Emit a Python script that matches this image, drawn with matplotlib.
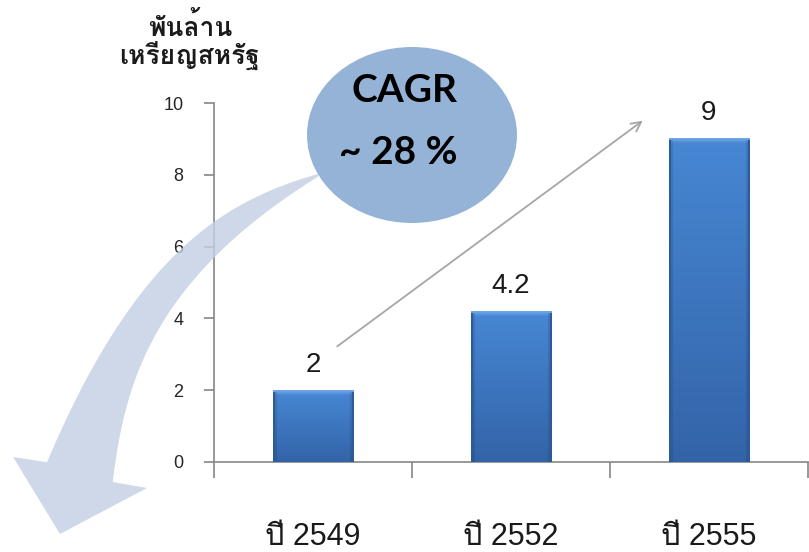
import matplotlib
matplotlib.use("Agg")
import matplotlib.pyplot as plt
import numpy as np
from matplotlib.patches import Ellipse, Polygon
from matplotlib.ticker import FixedLocator

# ---------------- data ----------------
categories = ["ปี 2549", "ปี 2552", "ปี 2555"]
values = [2, 4.2, 9]
value_labels = ["2", "4.2", "9"]
y_ticks = [0, 2, 4, 6, 8, 10]
y_label = "พันล้าน\nเหรียญสหรัฐ"
cagr_title = "CAGR"
cagr_value = "~ 28 %"

W, H = 809, 552
fig = plt.figure(figsize=(W / 100, H / 100), dpi=100)
fig.patch.set_facecolor("white")

ax = fig.add_axes([214 / W, 1 - 462 / H, 594 / W, 359 / H], zorder=1)
gray = "#868686"
x = np.arange(len(categories))
bar_w = 0.405
bars = ax.bar(x, values, width=bar_w, color="#3b78c4", edgecolor="none", zorder=2)
ax.set_xlim(-0.5, len(categories) - 0.5)
ax.set_ylim(0, 10)

# gradient fill for bars
def hex2rgb(h):
    h = h.lstrip("#")
    return np.array([int(h[i:i + 2], 16) for i in (0, 2, 4)]) / 255.0

top_c = hex2rgb("#4787d4")
bot_c = hex2rgb("#3364a8")
bevel_c = hex2rgb("#6ea5e6")
edge_c = hex2rgb("#2d5a98")
px_per_unit = 359 / 10.0
px_per_cat = 594 / 3.0
for b in bars:
    h_units = b.get_height()
    nr = max(int(round(h_units * px_per_unit)), 2)
    nc = max(int(round(b.get_width() * px_per_cat)), 2)
    t = np.linspace(0, 1, nr)[:, None, None]
    img = top_c * (1 - t) + bot_c * t
    img = np.repeat(img, nc, axis=1)
    # top bevel
    for r, w in enumerate([1.0, 0.85, 0.65, 0.4, 0.2]):
        img[r, :, :] = bevel_c * w + img[r, :, :] * (1 - w)
    # side edges darker
    img[2:, :2, :] = edge_c
    img[2:, -2:, :] = edge_c
    img[2:, 2:4, :] = img[2:, 2:4, :] * 0.9
    img[2:, -4:-2, :] = img[2:, -4:-2, :] * 0.9
    x0 = b.get_x()
    ax.imshow(img, extent=(x0, x0 + b.get_width(), 0, h_units), aspect="auto",
              interpolation="bilinear", zorder=3)
ax.set_xlim(-0.5, len(categories) - 0.5)
ax.set_ylim(0, 10)

for xi, v, lab in zip(x, values, value_labels):
    ax.annotate(lab, (xi, v), xytext=(0, 9), textcoords="offset points",
                ha="center", va="bottom", fontsize=20, color="#1a1a1a",
                family=["Liberation Sans"], zorder=4)

# axes styling
for s in ("top", "right"):
    ax.spines[s].set_visible(False)
for s in ("left", "bottom"):
    ax.spines[s].set_color(gray)
    ax.spines[s].set_linewidth(1.2)
ax.set_yticks(y_ticks)
ax.tick_params(axis="y", direction="out", length=7, width=1.2, color=gray,
               pad=15, labelsize=13, labelcolor="#262626")
for lab in ax.get_yticklabels():
    lab.set_family(["Liberation Sans"])
ax.set_xticks(x)
ax.set_xticklabels(categories)
ax.tick_params(axis="x", which="major", length=0, pad=43, labelsize=22,
               labelcolor="#1a1a1a")
for lab in ax.get_xticklabels():
    lab.set_family(["Liberation Sans", "Loma"])
ax.xaxis.set_minor_locator(FixedLocator(np.arange(-0.5, len(categories), 1.0)))
ax.tick_params(axis="x", which="minor", direction="out", length=11.5, width=1.2,
               color=gray)
ax.set_facecolor("none")

# ---------------- overlay decorations (pixel space) ----------------
ov = fig.add_axes([0, 0, 1, 1], zorder=2)
ov.set_xlim(0, W)
ov.set_ylim(H, 0)
ov.axis("off")
ov.set_facecolor("none")

# curved band: smooth edges fitted through traced outline points
up_x = np.array([320, 262, 213, 133, 83, 47], float)
up_y = np.array([173, 196, 220, 307, 383, 463], float)
lo_y = np.array([177, 187, 214, 260, 317, 383, 482], float)
lo_x = np.array([320, 300, 262, 213, 167, 133, 113], float)
cu = np.polyfit(up_x, up_y, 3)
cl = np.polyfit(lo_y, lo_x, 3)
xx_u = np.linspace(320, 47, 80)
yy_l = np.linspace(482, 177, 80)
upper = np.column_stack([xx_u, np.polyval(cu, xx_u)])
lower = np.column_stack([np.polyval(cl, yy_l), yy_l])
shape = np.vstack([upper, [(13, 457), (60, 534), (147, 488)], lower])
ov.add_patch(Polygon(shape, closed=True, facecolor="#c3cfe3", edgecolor="none",
                     alpha=0.8, zorder=1))

ov.add_patch(Ellipse((412, 135), 210, 176, facecolor="#95b3d7", edgecolor="none",
                     zorder=2))
ov.text(405, 90, cagr_title, ha="center", va="center", fontsize=28,
        fontweight="bold", family=["Lato"], color="black", zorder=3)
ov.text(398, 153, cagr_value, ha="center", va="center", fontsize=28,
        fontweight="bold", family=["Lato"], color="black", zorder=3)

ov.annotate("", xy=(645, 119), xytext=(335, 348),
            arrowprops=dict(arrowstyle="->,head_length=0.7,head_width=0.35",
                            color="#a6a6a6", lw=1.3), zorder=2)

ov.text(190, 41, y_label, ha="center", va="center", fontsize=19,
        fontweight="bold", family=["Loma"], color="#1a1a1a",
        linespacing=1.0, multialignment="center", zorder=3)

fig.savefig("out.png", dpi=100)
